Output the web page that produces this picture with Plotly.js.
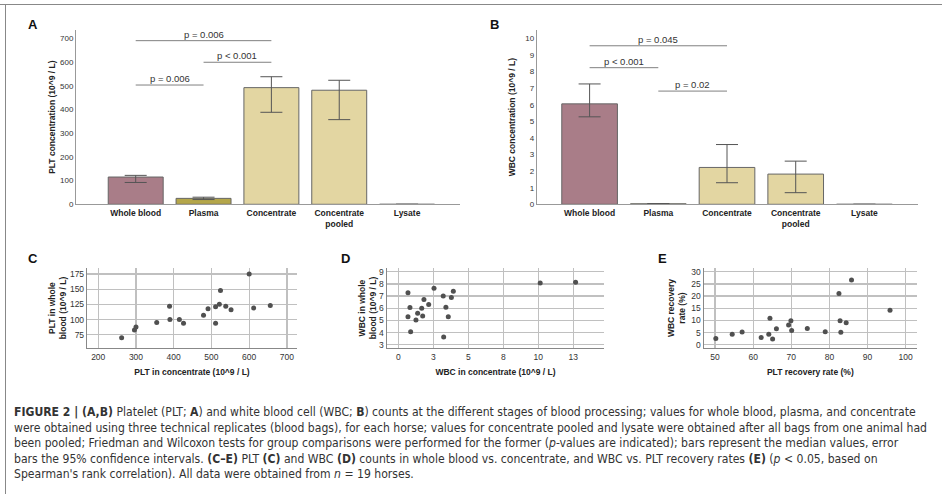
<!DOCTYPE html>
<html>
<head>
<meta charset="utf-8">
<script src="https://cdn.plot.ly/plotly-3.0.1.min.js"></script>
<style>
html,body{margin:0;padding:0;background:#fff;}
#chart{width:942px;height:494px;}
</style>
</head>
<body>
<div id="chart"></div>
<script>
// ---------- DATA ----------
const categories = ['Whole blood', 'Plasma', 'Concentrate', 'Concentrate pooled', 'Lysate'];
const categoryLabels = ['Whole blood', 'Plasma', 'Concentrate', 'Concentrate<br>pooled', 'Lysate'];

const pltMedian = [115, 25, 492, 481, 0];
const pltCiLow  = [92, 20, 388, 357, 0];
const pltCiHigh = [122, 30, 538, 523, 0];

const wbcMedian = [6.05, 0.03, 2.22, 1.82, 0];
const wbcCiLow  = [5.27, 0.03, 1.30, 0.70, 0];
const wbcCiHigh = [7.25, 0.03, 3.60, 2.60, 0];

const pltComparisons = [
  {from: 'Whole blood', to: 'Concentrate', y: 690, label: 'p = 0.006'},
  {from: 'Plasma', to: 'Concentrate', y: 599, label: 'p < 0.001'},
  {from: 'Whole blood', to: 'Plasma', y: 503, label: 'p = 0.006'}
];
const wbcComparisons = [
  {from: 'Whole blood', to: 'Concentrate', y: 9.55, label: 'p = 0.045'},
  {from: 'Whole blood', to: 'Plasma', y: 8.23, label: 'p < 0.001'},
  {from: 'Plasma', to: 'Concentrate', y: 6.82, label: 'p = 0.02'}
];

// Panel C: PLT concentrate vs whole blood
const pltConcentrate = [262, 296, 300, 355, 389, 390, 415, 426, 479, 491, 511, 511, 521, 524, 538, 552, 600, 612, 656];
const pltWholeBlood  = [70, 83, 88, 95, 122, 100, 100, 94, 107, 118, 121, 94, 125, 148, 122, 116, 175, 119, 123];

// Panel D: WBC concentrate vs whole blood
const wbcConcentrate = [0.69, 0.69, 0.83, 0.88, 1.26, 1.38, 1.67, 1.74, 1.83, 2.17, 2.55, 3.21, 3.24, 3.40, 3.57, 3.79, 3.93, 10.14, 12.67];
const wbcWholeBlood  = [7.28, 5.31, 6.06, 4.06, 5.03, 5.58, 6.00, 5.36, 6.72, 6.31, 7.64, 7.00, 3.64, 6.08, 5.31, 6.89, 7.39, 8.08, 8.14];
const wbcTickVals = [0, 2.5, 5, 7.5, 10, 12.5];
const wbcTickText = ['0', '3', '5', '8', '10', '13'];

// Panel E: recovery rates
const pltRecovery = [50.2, 54.5, 57.1, 62.1, 64.1, 64.4, 65.1, 66.1, 69.3, 69.9, 70.1, 74.2, 78.9, 82.5, 82.8, 83.0, 84.4, 85.8, 95.9];
const wbcRecovery = [2.6, 4.3, 5.2, 3.0, 4.3, 10.9, 2.4, 6.6, 8.1, 9.9, 5.9, 6.7, 5.3, 21.1, 9.9, 5.1, 9.0, 26.6, 14.2];

const captionLines = [
  '<b>FIGURE 2 | (A,B)</b> Platelet (PLT; <b>A</b>) and white blood cell (WBC; <b>B</b>) counts at the different stages of blood processing; values for whole blood, plasma, and concentrate',
  'were obtained using three technical replicates (blood bags), for each horse; values for concentrate pooled and lysate were obtained after all bags from one animal had',
  'been pooled; Friedman and Wilcoxon tests for group comparisons were performed for the former (<i>p</i>-values are indicated); bars represent the median values, error',
  'bars the 95% confidence intervals. <b>(C–E)</b> PLT <b>(C)</b> and WBC <b>(D)</b> counts in whole blood vs. concentrate, and WBC vs. PLT recovery rates <b>(E)</b> (<i>p</i> &lt; 0.05, based on',
  'Spearman\'s rank correlation). All data were obtained from <i>n</i> = 19 horses.'
];

// ---------- STYLE ----------
const W = 942, H = 494;
const FONT = 'Liberation Sans, Arial, sans-serif';
const barColors = ['#a97d88', '#b4a64a', '#e3d6a2', '#e3d6a2', '#e3d6a2'];
const px = v => v / W;
const py = v => 1 - v / H;

const traces = [];
function barTrace(vals, lo, hi, xa, ya) {
  return {
    type: 'bar', x: categories, y: vals, xaxis: xa, yaxis: ya,
    marker: {color: barColors, line: {color: '#666', width: 1}},
    error_y: {type: 'data', array: vals.map((v, i) => hi[i] - v), arrayminus: vals.map((v, i) => v - lo[i]),
              color: '#555', thickness: 1, width: 11, visible: true},
    hoverinfo: 'skip', showlegend: false
  };
}
traces.push(barTrace(pltMedian, pltCiLow, pltCiHigh, 'x', 'y'));
traces.push(barTrace(wbcMedian, wbcCiLow, wbcCiHigh, 'x2', 'y2'));

function scatterTrace(xs, ys, xa, ya) {
  return {type: 'scatter', mode: 'markers', x: xs, y: ys, xaxis: xa, yaxis: ya,
          marker: {color: '#505050', size: 5}, hoverinfo: 'skip', showlegend: false, cliponaxis: false};
}
traces.push(scatterTrace(pltConcentrate, pltWholeBlood, 'x3', 'y3'));
traces.push(scatterTrace(wbcConcentrate, wbcWholeBlood, 'x4', 'y4'));
traces.push(scatterTrace(pltRecovery, wbcRecovery, 'x5', 'y5'));

const shapes = [];
const annotations = [];
function addComparisons(list, xref, yref) {
  list.forEach(c => {
    shapes.push({type: 'line', xref: xref, yref: yref, x0: c.from, x1: c.to, y0: c.y, y1: c.y,
                 line: {color: '#808080', width: 1}});
    annotations.push({xref: xref, yref: yref, x: (categories.indexOf(c.from) + categories.indexOf(c.to)) / 2,
                      y: c.y, text: c.label, showarrow: false, yanchor: 'bottom', yshift: -1,
                      font: {family: FONT, size: 9.5, color: '#333'}});
  });
}
addComparisons(pltComparisons, 'x', 'y');
addComparisons(wbcComparisons, 'x2', 'y2');

// frame lines
shapes.push({type: 'line', xref: 'paper', yref: 'paper', x0: 0, x1: 1, y0: py(4.5), y1: py(4.5), line: {color: '#888', width: 1}});
shapes.push({type: 'line', xref: 'paper', yref: 'paper', x0: px(5.5), x1: px(5.5), y0: py(4.5), y1: 0, line: {color: '#888', width: 1}});

// panel letters
[['A', 33, 25], ['B', 494, 25], ['C', 33, 258], ['D', 345, 258], ['E', 662, 258]].forEach(p => {
  annotations.push({xref: 'paper', yref: 'paper', x: px(p[1]), y: py(p[2]), text: '<b>' + p[0] + '</b>',
                    showarrow: false, xanchor: 'center', yanchor: 'middle',
                    font: {family: FONT, size: 13, color: '#111'}});
});

// caption
const capY = [412, 427.5, 443, 458.5, 474];
captionLines.forEach((t, i) => {
  annotations.push({xref: 'paper', yref: 'paper', x: px(12), y: py(capY[i]), text: t, showarrow: false,
                    xanchor: 'left', yanchor: 'middle', align: 'left',
                    font: {family: 'Liberation Sans Narrow, DejaVu Sans Condensed, Arial Narrow, sans-serif', size: 12.1, color: '#333'}});
});

const tickFont = {family: FONT, size: 8.5, color: '#333'};
const barTickFont = {family: FONT, size: 8, color: '#333'};
const titleFont = {family: FONT, size: 8.5, color: '#222', weight: 'bold'};

function barXAxis(domain, range, anchor) {
  return {domain: domain, range: range, anchor: anchor, type: 'category',
          tickvals: categories, ticktext: categoryLabels, showgrid: false, zeroline: false,
          showline: true, linecolor: '#999', linewidth: 1, ticks: '',
          tickfont: {family: FONT, size: 8.5, color: '#222', weight: 'bold'}, fixedrange: true};
}
function barYAxis(domain, range, dtick, anchor, title, standoff) {
  return {domain: domain, range: range, anchor: anchor, dtick: dtick, tick0: 0, showgrid: false,
          zeroline: false, showline: true, linecolor: '#999', linewidth: 1, ticks: '',
          tickfont: barTickFont, title: {text: title, font: titleFont, standoff: standoff}, fixedrange: true};
}
function scX(domain, range, anchor, title, extra) {
  return Object.assign({domain: domain, range: range, anchor: anchor, showgrid: true, gridcolor: '#c0c0c0', gridwidth: 1.3,
          zeroline: false, showline: true, linecolor: '#888', linewidth: 1.5, ticks: '',
          tickfont: tickFont, title: {text: title, font: titleFont, standoff: 8}, fixedrange: true}, extra || {});
}
function scY(domain, range, anchor, title, standoff, extra) {
  return Object.assign({domain: domain, range: range, anchor: anchor, showgrid: true, gridcolor: '#c0c0c0', gridwidth: 1.3,
          zeroline: false, showline: true, linecolor: '#888', linewidth: 1.5, ticks: '',
          tickfont: tickFont, title: {text: title, font: titleFont, standoff: standoff}, fixedrange: true}, extra || {});
}

const topDom = [py(204.3), py(30)];
const botDom = [py(347.8), py(268.3)];

const layout = {
  width: W, height: H, margin: {l: 0, r: 0, t: 0, b: 0},
  paper_bgcolor: '#fff', plot_bgcolor: 'rgba(0,0,0,0)',
  font: {family: FONT},
  bargap: 0.19, showlegend: false,
  xaxis: barXAxis([px(76), px(460)], [-0.88, 4.78], 'y'),
  yaxis: barYAxis(topDom, [0, 735], 100, 'x', 'PLT concentration (10^9 / L)', 3),
  xaxis2: barXAxis([px(536.7), px(918)], [-0.77, 4.78], 'y2'),
  yaxis2: barYAxis(topDom, [0, 10.5], 1, 'x2', 'WBC concentration (10^9 / L)', 8),
  xaxis3: scX([px(87.3), px(296.7)], [171, 726], 'y3', 'PLT in concentrate (10^9 / L)', {dtick: 100, tick0: 0}),
  yaxis3: scY(botDom, [53.6, 184.3], 'x3', 'PLT in whole<br>blood (10^9 / L)', 2, {dtick: 25, tick0: 0}),
  xaxis4: scX([px(387), px(604)], [-0.81, 14.7], 'y4', 'WBC in concentrate (10^9 / L)', {tickvals: wbcTickVals, ticktext: wbcTickText}),
  yaxis4: scY(botDom, [2.75, 9.28], 'x4', 'WBC in whole<br>blood (10^9 / L)', 1, {dtick: 1, tick0: 0}),
  xaxis5: scX([px(704), px(916.7)], [47.1, 102.9], 'y5', 'PLT recovery rate (%)', {dtick: 10, tick0: 0}),
  yaxis5: scY(botDom, [-1.24, 31.4], 'x5', 'WBC recovery<br>rate (%)', 4, {dtick: 5, tick0: 0}),
  shapes: shapes,
  annotations: annotations
};

Plotly.newPlot('chart', traces, layout, {staticPlot: true, displayModeBar: false});
</script>
</body>
</html>
